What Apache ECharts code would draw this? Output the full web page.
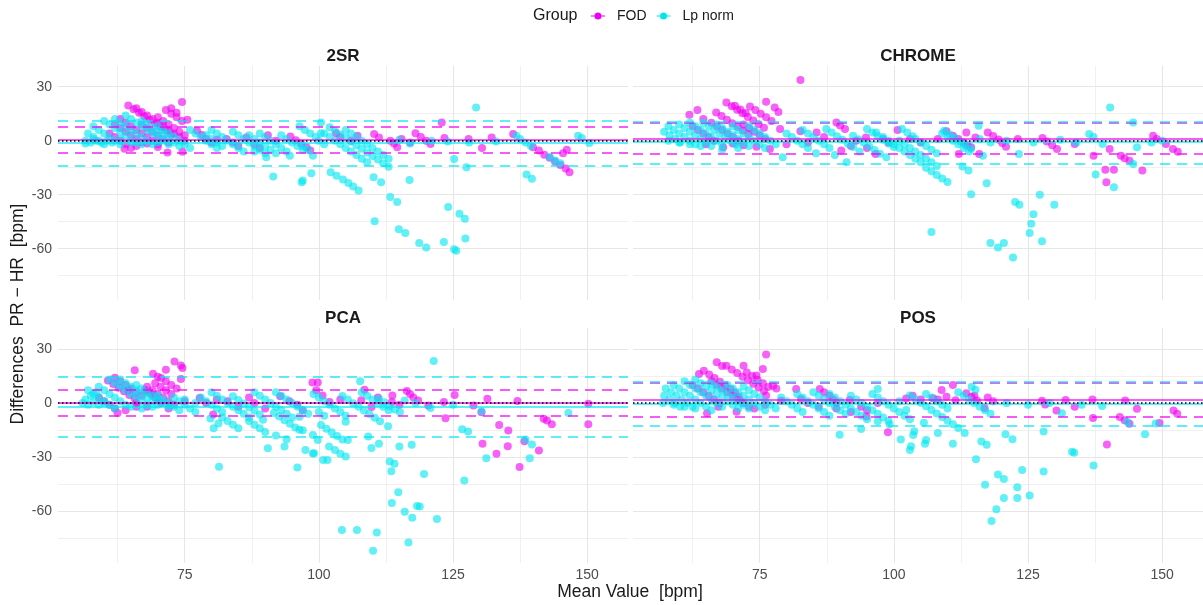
<!DOCTYPE html>
<html><head><meta charset="utf-8">
<script src="https://cdn.jsdelivr.net/npm/echarts@6/dist/echarts.min.js"></script>
<style>html,body{margin:0;padding:0;background:#fff}#c{width:1203px;height:605px}</style>
</head><body><div id="c"></div>
<script>
const panels = ['2SR', 'CHROME', 'PCA', 'POS'];
const groups = ['FOD', 'Lp norm'];
const xTicks = [75, 100, 125, 150];
const xMinor = [62.5, 87.5, 112.5, 137.5];
const yTicks = [30, 0, -30, -60];
const yMinor = [15, -15, -45, -75];
const xRange = [51.4, 157.6];
const yRange = [-88.5, 41.5];

// mean and limits of agreement per panel (2SR, CHROME, PCA, POS)
const fodMean = [0.5, 0.9, 0.2, 1.7];
const fodUpper = [7.9, 9.9, 7.6, 11.0];
const fodLower = [-6.8, -7.4, -7.0, -7.8];
const lpMean = [-0.9, -0.8, -2.0, -0.2];
const lpUpper = [11.1, 10.4, 14.6, 11.5];
const lpLower = [-13.8, -12.9, -18.4, -12.7];

const fod2SR = [[61,4],[62,2],[63,0],[64,-2],[65,-4],[62,9],[63,7],[64,5],[65,3],[66,1],[67,-1],[63,12],[64,10],[65,8],[66,6],[67,4],[68,2],[69,0],[70,-2],
[64.5,19.5],[65.5,17.5],[66.5,15.5],[67.5,13.5],[68.5,11.5],[69.5,9.5],[70.5,7.5],[71.5,5.5],[72.5,3.5],
[66,18],[67,16],[68,14],[69,12],[70,10],[71,8],[72,6],[73,4],[74,2],[75,0],[67,9],[68,7],[69,5],[70,3],[71,1],[72,-1],
[70,13],[71,11],[72,9],[73,7],[74,5],[75,3],[71.5,17],[72.5,15],[73.5,13],[74.5,11],[72.5,18],[74.5,21.5],[75.5,11.6],[73.5,15.5],
[63.8,-4.5],[66,-3],[68,-1.5],[71.8,-6.5],[74.6,-6.1],[70,-3.5],
[77.3,5.5],[78.2,3.1],[79,1],[80,-1],[81,0.5],[82.8,0.9],[84,-1],[86.5,1.8],[88,-2],[90.5,3],[92,0],[94.7,2.3],[95.7,0.3],[96.7,-1.7],[97.7,-3.7],[98.4,-5.5],[85,-3],[89,-4],
[103.2,4.1],[104,2],[107.2,2.8],[110.3,3.7],[111.2,1.8],[113.3,0],[114,-1.5],[114.6,-3.7],[115.4,0.9],[118,4.1],[119,2],[120,0],[120.8,-1.8],[122.9,10.1],[123.4,1.5],[127.9,0.9],[130.4,-4.1],[132.2,1.8],[136.2,3.7],
[139.9,-3.7],[141,-5.5],[142,-7.8],[143,-9.5],[144,-11.5],[145,-13.5],[146,-15.5],[146.7,-17.5],[146.2,-5],[145.5,-7],[106,0],[117,-1]];

const lp2SR = [[56.5,0],[57.5,-1],[58.5,0],[59.5,-1],[60.5,0],[61.5,-1],[56.5,-1.5],[58,1],[57,4],[58,2],[59,0],[60,-2],
[58,8],[59,6],[60,4],[61,2],[62,0],[63,-2],[60,11],[61,9],[62,7],[63,5],[64,3],[65,1],[66,-1],
[62,12],[63,10],[64,8],[65,6],[66,4],[67,2],[68,0],[69,-2],[64,14],[65,12],[66,10],[67,8],[68,6],[69,4],[70,2],[71,0],[72,-2],
[67,11],[68,9],[69,7],[70,5],[71,3],[72,1],[73,-1],[74,-3],[70,8],[71,6],[72,4],[73,2],[74,0],[75,-2],[76,-4],[65,-1],[67,-2],[70,-1],[63,1],
[76,6],[77,4],[78,2],[79,0],[80,-2],[81,-4],[79,3],[80,1],[81,-1],[82,-3],[80,6],[81,4],[82,2],[83,0],[84,-2],[85,-4],[86,-6],
[84,5],[85,3],[86,1],[87,-1],[88,-3],[89,-5],[90,-7],[87,3],[88,1],[89,-1],[90,-3],[91,-5],[92,-7],
[89,4],[90,2],[91,0],[92,-2],[93,-4],[94,-6],[93,3],[94,1],[95,-1],[96,-3],[97,-5],
[90.2,-9.2],[91.5,-19.9],[96.8,-23.1],[98.6,-18.1],[94.6,-8.3],[88,-6],
[96.4,8],[97.4,6],[98.4,4],[99.4,2],[100,0],[101,-2],[97,-3],[98,-5],[98.9,-8.3],[100.4,10.1],[100.4,4.1],
[102,7.5],[103,5.5],[104,3.5],[105,1.5],[106,-0.5],[107,-2.5],[108,-4.5],[109,-6.5],[110,-8.5],[111,-10.5],[112,-12.5],[113,-14.5],
[101,4],[102,2],[103,0],[104,-2],[105,-4],[106,-6],[107,-8],[108,-10],[109,-12],
[105,6],[106,4],[107,2],[108,0],[109,-2],[110,-4],[111,-6],[112,-8],[113,-10],
[102.2,-17.5],[103.3,-19.5],[104.5,-21.5],[105.5,-23.5],[106.4,-25.5],[107.4,-27.7],
[97,-22.1],[110.2,-20.3],[111.6,-23.1],[113.3,-31.3],[114.6,-34.1],[110.4,-44.8],[114.9,-49.2],[116.1,-51.3],[118.7,-56.8],[120,-59.4],[123.3,-56.3],[125.2,-60.3],[125.6,-61.2],[127.3,-54.4],
[124.1,-36.9],[126.2,-40.6],[127.2,-43.3],[125.2,-10.1],[127.5,-14.8],[129.3,18.4],[116.9,-21.8],[138.7,-18.8],[139.7,-21.2],
[115,0.5],[117,-1.5],[121,0],[124,-0.5],[128,-1],[133,-0.5],[136.8,2.8],[137.5,1],[138.5,-1],[139.5,-3],[143,-9],[144,-11],[145,-12.5],[148.3,2.8],[149,1.5],[150.4,-1.3]];

const fodCHROME = [[61.9,14.4],[63.4,17],[64.5,12],[62.5,8],[63.5,6],[64.5,4],[65.5,2],[66.5,0],
[66.9,15.7],[67.9,13.7],[68.9,11.7],[69.9,9.7],[70.9,7.7],[71.9,5.7],[72.9,3.7],
[68.8,21.2],[69.8,19.2],[70.8,17.2],[71.8,15.2],[72.8,13.2],[73.8,11.2],[74.8,9.2],[75.8,7.2],[70.4,19.4],[71.4,17.4],[72.4,15.4],
[66,10],[67,8],[68,6],[69,4],[70,2],[71,0],[73.2,19],[74.2,17],[75.2,15],[76.2,13],[77.2,11],[76.2,21.6],[77.8,18.4],[78.5,16],
[72,9],[73,7],[74,5],[75,3],[76,1],[68.2,-3.7],[74.4,-3.3],[76.9,-4.6],[65,-2],[70,-1.5],[72,-2.5],[82.6,33.7],
[78.8,6.5],[82.6,5.2],[85.6,4.6],[89.3,10.1],[90,8.5],[90.9,6.5],[90.2,-5.5],[94.8,1.8],[96.6,-7.4],[100.7,5.9],[80,-2],[84,-1],[87,2],[92,-3],[93,0],[98,1],[99,-1],[95,-4],
[103,1],[105,-1],[108.2,0.9],[109.8,5.2],[111,2.8],[112,1],[113,-1],[113.7,-2.5],[114.4,-3.7],[113.5,4.6],[115.2,1.8],[117.5,4.6],[118.5,2.6],[119.5,0.6],[120.2,-1.3],[120.9,-3.3],
[112.1,-7.4],[115.9,-7.4],[123.1,0.9],[127.7,1.5],[128.5,-0.5],[129.5,-2.5],[130.4,-4.6],[133.7,-1.8],[137.2,-8.3],[140.2,-4.6],[139.4,-16.2],[141,-16.2],[139.6,-23.1],
[142.3,-8.3],[143,-9.7],[143.9,-11.1],[146.3,-16.6],[148.3,2.8],[149,1],[150.7,-1.8],[152,-4.6],[152.9,-6.1]];

const lpCHROME = [[57.2,5],[58.2,3],[59.2,1],[60.2,-1],[58,8],[59,6],[60,4],[61,2],[62,0],[63,-2],[60,9],[61,7],[62,5],[63,3],[64,1],[65,-1],[66,-3],
[62,10],[63,8],[64,6],[65,4],[66,2],[67,0],[68,-2],[64.5,10],[65.5,8],[66.5,6],[67.5,4],[68.5,2],[69.5,0],[70.5,-2],
[67,9],[68,7],[69,5],[70,3],[71,1],[72,-1],[73,-3],[70,8],[71,6],[72,4],[73,2],[74,0],[75,-2],[76,-4],[73,8],[74,6],[75,4],[76,2],[77,0],[78,-2],
[58,0],[60,-1],[62,-2],[64,-3],[68,-5],[71,-4],[79.3,-9.2],
[80,4],[81,2],[82,0],[83,-2],[84,-4],[83,6],[84,4],[85,2],[86,0],[87,-2],[88,-4],
[87.4,6.5],[88.4,4.5],[89.4,2.5],[90.4,0.5],[91.4,-1.5],[92.4,-3.5],[93.6,-6],[92.4,2.8],[93.4,0.8],[94.4,-1.2],[95.4,-3.2],[96.4,-5.2],[97.4,-7.2],[98.6,-9.2],
[95,6.5],[96,4.5],[97,2.5],[98,0.5],[99,-1.5],[100,-3.5],[91.2,-12],[85.5,-7],[89,-8],
[96.7,4.6],[98,2],[99,0],[100,-2],[101,-4],[102,-6],[103,-8],[104,-10],[105,-12],[106,-15],[107,-17],[108,-19],[109,-21],[110,-23],
[101,0],[102,-2],[103,-4],[104,-6],[105,-8],[106,-10],[107,-12],[108,-14],[104,1],[105,-1],[106,-3],[107,-5],[108,-7],
[101.5,6.5],[102.5,4.5],[103.5,2.5],[109.4,5.5],[110.4,3.5],[111.4,1.5],[112.4,-0.5],[113.4,-2.5],[114.4,-4.5],
[107,-50.7],[114.4,-29.7],[117.3,-23.6],[115.8,8.3],[116.6,-8.3],[113.9,-16.6],[112.8,-14.4],[118,-56.8],[119.4,-59.4],[120.5,-56.8],[122.2,-64.9],[122.6,-34.1],[123.4,-35.6],
[126,-40.9],[125.6,-46.1],[125.3,-51.3],[127.6,-55.8],[127.2,-30],[129.9,-35.6],[123.3,-7.4],[136.4,3.7],[137.2,2],[138.9,-1.8],[137.6,-18.8],[141,-25.8],[144.6,10.1],[140.3,18.4],[145.3,-3.7],[144.6,-12.9],
[109,4],[110,2],[111,0],[112,-2],[113,-4],[114,-6],[116,1],[118,-1],[121,0],[126,-1],[131,0.5],[134,-1],[148,-1],[150,0]];

const fodPCA = [[60.7,12.5],[61.7,10.5],[62.7,8.5],[63.7,6.5],[64.7,4.5],[65.7,2.5],[62,14],[63,12],[64,10],[65,8],[66,6],[67,4],
[65.7,18.1],[64.5,7],[59,3],[60,1],[61,-1],[62,-3],[62.5,-5.5],[64,-4],[66,-2],
[67.6,7.2],[68.2,6],[68.8,4.8],[69.5,3],[70,1.5],[70.6,0],[69.1,16.2],[70,14.5],[70.6,13.8],[71.5,12],[72.5,10],[73.5,8],
[71.5,18.4],[73.1,22.9],[74.3,20.7],[74.6,19.4],[74.3,13.3],[68,9],[69,7],[70,5],[71,3],[72,1],[73,-1],[69.5,11],[70.5,9],[71.5,7],[72.5,5],
[66,0],[68,-2],[72,-3],[75,1],
[77.8,2.8],[79,0],[80.3,-6.4],[81,2],[83,1],[85,-2],[87,3],[88,0],[90,-3],[92.8,3.7],[94.5,1],[96,-1],[98.8,11.3],[99.5,7],[97,-4],
[99.8,11.3],[100.7,4.1],[102,0.5],[108.5,7.4],[107.9,1.5],[109.8,-2.2],[113.7,4.2],[113.6,0.5],[116.4,6.6],[117,5],[117.6,3],[118.5,1.4],[120.4,-1.4],[123.3,0.5],[123.6,-8.4],
[125.3,4.5],[128.8,-1.4],[130.3,-5.1],[130.5,-22.6],[131.4,2.4],[133.1,-28.1],[133.6,-12.1],[135.3,-15.2],[135.2,-23.9],[137,1.1],[137.4,-35.4],[138.3,-21.2],[141,-26.2],
[141.9,-8.7],[142.5,-9.7],[143.4,-11.7],[150.2,-0.4],[150.2,-11.7],[104,2],[111,3],[115,-1]];

const lpPCA = [[56,0],[57,-1],[58,0.5],[59,-1],[60,0],[56.5,2],[57.5,4],[58.5,6],[57,7],[58,5],[59,3],[60,1],[61,-1],[62,-3],
[59,9],[60,7],[61,5],[62,3],[63,1],[64,-1],[61,13],[62,11],[63,9],[64,7],[65,5],[66,3],[67,1],[68,-1],
[63,13],[64,11],[65,9],[66,7],[67,5],[68,3],[69,1],[70,-1],[66,10],[67,8],[68,6],[69,4],[70,2],[71,0],[72,-2],
[70,4],[71,2],[72,0],[73,-2],[74,-4],[73,3],[74,1],[75,-1],[76,-3],[77,-5],[65,-2],[67,-3],[69,-2],[75,2],[77,0],
[78,3],[79,1],[80,-1],[81,-3],[82,-5],[79.8,-8.5],[80.4,-14],[81.3,-11.3],[81.4,-35.2],
[80,6],[81,4],[82,2],[83,0],[84,-2],[85,-4],[86,-6],[87,-8],[84,3.7],[85,1.7],[86,-0.3],[87,-2.3],[88,-4.3],[89,-6.3],[89.6,-9.2],
[82,-8],[83,-10],[84,-12],[85,-14],[87,-10],[88,-12],[89,-14],[90,-16],
[88,6],[89,4],[90,2],[91,0],[92,-2],[93,-4],[94,-6],[95,-8],[91.6,-5.5],[92.6,-7.5],[93.6,-9.5],[94.6,-11.5],[95.6,-13.5],[96.4,-14.8],
[92,6],[93,4],[94,2],[95,0],[96,-2],[97,-4],[98,-6],
[90.5,-25],[93.6,-24.1],[96,-35.7],[97.5,-26],[99.1,-27.8],[100.8,-31.5],[92,-18],[94,-20],
[96.4,-7.6],[97,-15],[98.9,-17.7],[99.8,-20.5],[98.9,-27.9],[101.6,-31.5],
[100.4,-12.2],[101.4,-14.2],[102.4,-16.2],[103.4,-18.2],[104.4,-20.2],[105.4,-20.5],[101.9,-24.1],[103,-26],[104,-28],[105,-29.6],
[107.7,12],[105,-10.3],[109.2,-18.5],[109.8,-24.9],[111.2,-22.6],[115,-24],[117.3,-23.1],[113.2,-32.3],[114.1,-33.6],[113.5,-37.8],
[114.8,-49.4],[113.6,-55.3],[116,-60.1],[117.4,-63.4],[118.3,-57],[118.8,-57.3],[119.6,-39.3],[122,-64.2],[116.7,-77.1],[110.8,-71.6],[110.1,-81.7],[107.1,-70.3],[104.3,-70.3],
[121.4,23.2],[126.7,-14.5],[127.8,-15.8],[127.1,-42.9],[131.2,-30.6],[139.3,-30.6],[138.5,-20.2],[139.7,-23],[146.5,-5.5],[130.3,-4.6],
[99,5],[100,3],[101,1],[102,-1],[103,-3],[104,-5],[105,-7],
[104.4,3.9],[105.4,1.9],[106.4,-0.1],[107.4,-2.1],[108.4,-4.1],[109.4,-6.1],[110.4,-8.1],[111.4,-10.1],[112.9,-12.9],
[108,6],[109,4],[110,2],[111,0],[112,-2],[113,-4],[111.2,2.4],[112.2,0.4],[113.2,-1.6],[114.2,-3.6],[115.1,-5],
[116,1.4],[118,0],[120.8,-2.8],[125,-1],[100,-5],[101,-7]];

const fodPOS = [[63.7,16],[64.6,17.8],[65.6,15.8],[66.6,13.8],[67.6,11.8],[68.6,9.8],[69.6,7.8],[70.4,5.8],[71.1,3.5],[71.5,1],
[67,22.5],[68,20.5],[68.8,20.6],[69.8,18.6],[70.8,16.6],[71.8,14.6],[72.8,12.6],[73.8,10.6],[74.8,8.6],[75.8,6.6],
[72,20.6],[72.6,16.9],[73.6,14.9],[74.6,12.9],[75.6,10.9],[76.6,8.9],[75.6,18.8],[74.4,15.2],[78.1,8.1],[77.5,9.5],
[62.5,10],[63.5,8],[64.5,6],[65.5,4],[66.5,2],[67.5,0],[66,12],[67,10],[68,8],[69,6],[70,4],[71,2],[72,0],[73,-2],
[65.2,-5.7],[67.3,-2],[70.7,-4.8],[74,-3],[76,-1],[76.2,26.9],
[76.2,4.1],[79,1.3],[82.7,2.2],[81.8,7.7],[86.2,7.7],[87,6],[88,4],[88.7,2],[89.3,0.3],[89.3,-3],[91.8,1.7],[94.9,-7.4],[93.9,-2],[95,-4],[98.9,-16.2],[102.3,2.5],[84,0],[86,-2],[92,-5],[97,0],
[103.5,4],[105,2],[107.3,2.6],[108.2,2],[108.9,7.2],[109.8,3.5],[111,9.9],[111.5,1.5],[113.5,5.4],[114.5,3.4],[115.5,1.4],[116.9,-2.8],[115,4],[117.5,3],[118.5,1],
[127.6,1.3],[128.2,-0.8],[130.3,-4.2],[132,1.7],[133.7,-2],[137,2],[137.1,-8.3],[139.7,-23],[143.1,1.4],[142.1,-7.8],[143,-9.6],[143.9,-11.5],[145.3,-3.2],[152.1,-4.2],[152.8,-6],[149.5,-11]];

const lpPOS = [[57.2,4],[58.2,2],[59.2,0],[60.2,-2],[57.5,8],[58.5,6],[59.5,4],[60.5,2],[61.5,0],[62.5,-2],
[59,10],[60,8],[61,6],[62,4],[63,2],[64,0],[65,-2],[61,12],[62,10],[63,8],[64,6],[65,4],[66,2],[67,0],[68,-2],
[63,13],[64,11],[65,9],[66,7],[67,5],[68,3],[69,1],[70,-1],[71,-3],[66,11],[67,9],[68,7],[69,5],[70,3],[71,1],[72,-1],[73,-3],
[69,10],[70,8],[71,6],[72,4],[73,2],[74,0],[75,-2],[76,-4],[72,9],[73,7],[74,5],[75,3],[76,1],[77,-1],[78,-3],
[57,0],[59,-1],[61,-2],[63,-3],[66,-4],
[79,3],[80,1],[81,-1],[82,-3],[83,-5],[82,5],[83,3],[84,1],[85,-1],[86,-3],[87,-5],[88,-7],
[85,6],[86,4],[87,2],[88,0],[89,-2],[90,-4],[91,-6],[88,5],[89,3],[90,1],[91,-1],[92,-3],[93,-5],[94,-7],[95,-9],
[92,4],[93,2],[94,0],[95,-2],[96,-4],[97,-6],[98,-8],[99,-10],[96,5],[97,3],[98,1],[99,-1],[100,-3],[101,-5],[102,-7],[103,-9],
[89.9,-17.5],[93.9,-14.4],[97,-10.1],[99.2,-11.8],[101.3,-20.2],[103.2,-23.9],[106,-20.5],[103.8,-15.6],[97,7.7],
[103,4.2],[104,2.2],[105,0.2],[106,-1.8],[107,-3.8],[108,-5.8],[109,-7.8],[110,-9.8],[111,-11.8],[112,-13.8],[113.2,-16.6],
[102.3,-3.9],[103.6,-17.7],[105.6,-10.9],[103,-26],[105.8,-22.6],[108.2,-16.6],[111,-22.6],[115.3,-31.1],[116.3,-21.3],[117.3,-23.1],[115.2,7.4],[114.5,9],
[117,-45.2],[118.2,-65.3],[119.1,-58.8],[119.4,-39.6],[120.5,-42],[120.5,-52.5],[123,-52.5],[123,-46.6],[123.9,-37],[125.3,-51.1],[120.8,-17.3],[122.1,-20],
[127.9,-15.8],[127.9,-37.9],[131.3,-5.7],[133.2,-26.9],[133.6,-27.5],[137.2,-34.6],[138.8,-1.7],[143.5,-10.3],[146.8,-17.3],[148.8,-11.3],
[106,5],[107,3],[108,1],[109,-1],[110,-3],[112,6],[113,4],[114,2],[115,0],[116,-2],[117,-4],[118,-6],[101,1],[121,0],[125,-1],[129,0],[135,-1]];

const fodData = [fod2SR, fodCHROME, fodPCA, fodPOS];
const lpData = [lp2SR, lpCHROME, lpPCA, lpPOS];

const FONT = '"Liberation Sans", Arial, sans-serif';
const FOD_COLOR = '#f000f0';
const LP_COLOR = '#00e6ef';
const grids = [
  {left: 58, top: 66, width: 570, height: 234},
  {left: 633, top: 66, width: 570, height: 234},
  {left: 58, top: 328, width: 570, height: 235},
  {left: 633, top: 328, width: 570, height: 235}
];

const xAxes = [], yAxes = [], series = [];
panels.forEach((p, i) => {
  const bottom = i >= 2, left = i % 2 === 0;
  xAxes.push({type: 'value', gridIndex: i, min: xRange[0], max: xRange[1],
    axisLine: {show: false}, axisTick: {show: false}, splitLine: {show: false},
    axisLabel: {show: bottom, customValues: xTicks, margin: 5, fontSize: 14, color: '#4d4d4d', fontFamily: FONT}});
  yAxes.push({type: 'value', gridIndex: i, min: yRange[0], max: yRange[1],
    axisLine: {show: false}, axisTick: {show: false}, splitLine: {show: false},
    axisLabel: {show: left, customValues: yTicks, margin: 6, fontSize: 14, color: '#4d4d4d', fontFamily: FONT,
      formatter: v => v < 0 ? '-' + Math.abs(v) : String(v)}});
  // grid lines
  series.push({type: 'scatter', xAxisIndex: i, yAxisIndex: i, data: [], silent: true, z: 0,
    markLine: {silent: true, symbol: 'none', z: 1, animation: false, label: {show: false},
      emphasis: {disabled: true},
      data: [
        ...xMinor.map(v => ({xAxis: v, lineStyle: {color: '#f0f0f0', width: 1, type: 'solid'}})),
        ...yMinor.map(v => ({yAxis: v, lineStyle: {color: '#f0f0f0', width: 1, type: 'solid'}})),
        ...xTicks.map(v => ({xAxis: v, lineStyle: {color: '#e6e6e6', width: 1.1, type: 'solid'}})),
        ...yTicks.map(v => ({yAxis: v, lineStyle: {color: '#e6e6e6', width: 1.1, type: 'solid'}}))
      ]}});
  series.push({name: groups[0], type: 'scatter', xAxisIndex: i, yAxisIndex: i, data: fodData[i],
    symbolSize: 8, itemStyle: {color: FOD_COLOR, opacity: 0.62}, z: 2,
    markLine: {silent: true, symbol: 'none', z: 5, animation: false, label: {show: false}, emphasis: {disabled: true},
      lineStyle: {color: FOD_COLOR, opacity: 0.85},
      data: [
        {yAxis: fodMean[i], lineStyle: {type: 'solid', width: 1.6, color: FOD_COLOR}},
        {yAxis: fodUpper[i], lineStyle: {type: [10, 7], width: 1.5, color: FOD_COLOR}},
        {yAxis: fodLower[i], lineStyle: {type: [10, 7], width: 1.5, color: FOD_COLOR}}
      ]}});
  series.push({name: groups[1], type: 'scatter', xAxisIndex: i, yAxisIndex: i, data: lpData[i],
    symbolSize: 8, itemStyle: {color: LP_COLOR, opacity: 0.62}, z: 3,
    markLine: {silent: true, symbol: 'none', z: 6, animation: false, label: {show: false}, emphasis: {disabled: true},
      lineStyle: {color: LP_COLOR, opacity: 0.85},
      data: [
        {yAxis: lpMean[i], lineStyle: {type: 'solid', width: 1.6, color: LP_COLOR}},
        {yAxis: lpUpper[i], lineStyle: {type: [10, 7], width: 1.5, color: LP_COLOR}},
        {yAxis: lpLower[i], lineStyle: {type: [10, 7], width: 1.5, color: LP_COLOR}},
        {yAxis: 0, lineStyle: {type: [1.5, 2.5], width: 1.5, color: '#000', opacity: 1}}
      ]}});
});

const stripPos = [[343, 56], [918, 56], [343, 318], [918, 318]];
const graphics = panels.map((p, i) => ({type: 'text', x: stripPos[i][0], y: stripPos[i][1], silent: true,
  style: {text: p, fontSize: 17, fontWeight: 'bold', fontFamily: FONT, fill: '#1a1a1a', align: 'center', verticalAlign: 'middle'}}));
graphics.push({type: 'text', x: 533, y: 16, silent: true,
  style: {text: 'Group', fontSize: 16, fontFamily: FONT, fill: '#1a1a1a', align: 'left', verticalAlign: 'middle'}});
graphics.push({type: 'text', x: 630, y: 592, silent: true,
  style: {text: 'Mean Value  [bpm]', fontSize: 17.5, fontFamily: FONT, fill: '#1a1a1a', align: 'center', verticalAlign: 'middle'}});
graphics.push({type: 'text', x: 18, y: 314, rotation: Math.PI / 2, silent: true,
  style: {text: 'Differences  PR \u2212 HR  [bpm]', fontSize: 17.5, fontFamily: FONT, fill: '#1a1a1a', align: 'center', verticalAlign: 'middle'}});

const chart = echarts.init(document.getElementById('c'), null, {renderer: 'canvas'});
chart.setOption({
  animation: false,
  backgroundColor: '#ffffff',
  grid: grids,
  xAxis: xAxes,
  yAxis: yAxes,
  legend: {data: groups, left: 586, top: 4, itemWidth: 21, itemHeight: 10, itemGap: 10, selectedMode: false,
    icon: 'path://M0,0M21,10M0,4.4L14,4.4L14,5.6L0,5.6Z M3.5,5A3.5,3.5,0,1,1,10.5,5A3.5,3.5,0,1,1,3.5,5Z',
    itemStyle: {opacity: 1},
    textStyle: {fontSize: 14, color: '#1a1a1a', fontFamily: FONT}},
  graphic: graphics,
  series: series
});
</script></body></html>
